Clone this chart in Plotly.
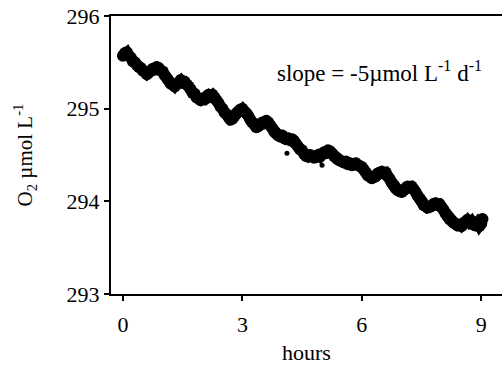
import plotly.graph_objects as go

# Values (hours, O2 µmol/L)
hours = [0.00, 0.05, 0.10, 0.15, 0.20, 0.25, 0.30, 0.35, 0.40, 0.45, 0.50,
         0.55, 0.60, 0.65, 0.70, 0.75, 0.80, 0.85, 0.90, 0.95, 1.00,
         1.05, 1.10, 1.15, 1.20, 1.25, 1.30, 1.35, 1.40, 1.45, 1.50,
         1.55, 1.60, 1.65, 1.70, 1.75, 1.80, 1.85, 1.90, 1.95, 2.00,
         2.05, 2.10, 2.15, 2.20, 2.25, 2.30, 2.35, 2.40, 2.45, 2.50,
         2.55, 2.60, 2.65, 2.70, 2.75, 2.80, 2.85, 2.90, 2.95, 3.00,
         3.05, 3.10, 3.15, 3.20, 3.25, 3.30, 3.35, 3.40, 3.45, 3.50,
         3.55, 3.60, 3.65, 3.70, 3.75, 3.80, 3.85, 3.90, 3.95, 4.00,
         4.05, 4.10, 4.15, 4.20, 4.25, 4.30, 4.35, 4.40, 4.45, 4.50,
         4.55, 4.60, 4.65, 4.70, 4.75, 4.80, 4.85, 4.90, 4.95, 5.00,
         5.05, 5.10, 5.15, 5.20, 5.25, 5.30, 5.35, 5.40, 5.45, 5.50,
         5.55, 5.60, 5.65, 5.70, 5.75, 5.80, 5.85, 5.90, 5.95, 6.00,
         6.05, 6.10, 6.15, 6.20, 6.25, 6.30, 6.35, 6.40, 6.45, 6.50,
         6.55, 6.60, 6.65, 6.70, 6.75, 6.80, 6.85, 6.90, 6.95, 7.00,
         7.05, 7.10, 7.15, 7.20, 7.25, 7.30, 7.35, 7.40, 7.45, 7.50,
         7.55, 7.60, 7.65, 7.70, 7.75, 7.80, 7.85, 7.90, 7.95, 8.00,
         8.05, 8.10, 8.15, 8.20, 8.25, 8.30, 8.35, 8.40, 8.45, 8.50,
         8.55, 8.60, 8.65, 8.70, 8.75, 8.80, 8.85, 8.90, 8.95, 9.00, 9.03]
o2 = [295.57, 295.60, 295.61, 295.57, 295.55, 295.51, 295.50, 295.47, 295.45, 295.44, 295.41,
      295.40, 295.37, 295.39, 295.41, 295.43, 295.42, 295.45, 295.44, 295.41, 295.40,
      295.36, 295.33, 295.30, 295.27, 295.26, 295.24, 295.27, 295.28, 295.31, 295.28,
      295.29, 295.26, 295.24, 295.21, 295.17, 295.16, 295.12, 295.11, 295.09, 295.11,
      295.10, 295.13, 295.15, 295.13, 295.15, 295.12, 295.09, 295.06, 295.02, 295.00,
      294.96, 294.94, 294.91, 294.88, 294.89, 294.92, 294.95, 294.97, 294.99, 295.00,
      294.97, 294.95, 294.92, 294.88, 294.85, 294.83, 294.80, 294.81, 294.83, 294.85,
      294.84, 294.87, 294.85, 294.82, 294.79, 294.75, 294.73, 294.71, 294.70, 294.71,
      294.68, 294.67, 294.68, 294.66, 294.67, 294.65, 294.62, 294.59, 294.56, 294.55,
      294.51, 294.49, 294.48, 294.50, 294.49, 294.47, 294.48, 294.50, 294.48, 294.51,
      294.53, 294.52, 294.55, 294.54, 294.52, 294.49, 294.47, 294.45, 294.44, 294.43,
      294.42, 294.43, 294.40, 294.41, 294.39, 294.40, 294.41, 294.39, 294.38, 294.37,
      294.34, 294.31, 294.28, 294.27, 294.25, 294.26, 294.27, 294.30, 294.31, 294.32,
      294.30, 294.31, 294.27, 294.24, 294.20, 294.17, 294.14, 294.12, 294.11, 294.10,
      294.12, 294.14, 294.16, 294.15, 294.16, 294.13, 294.10, 294.06, 294.03, 294.00,
      293.96, 293.95, 293.93, 293.94, 293.95, 293.97, 293.98, 293.96, 293.97, 293.94,
      293.91, 293.87, 293.84, 293.81, 293.79, 293.77, 293.76, 293.74, 293.75, 293.73,
      293.76, 293.78, 293.80, 293.77, 293.79, 293.75, 293.74, 293.77, 293.73, 293.76, 293.81]

outlier_hours = [4.12, 5.00]
outlier_o2 = [294.52, 294.39]

x_ticks = [0, 3, 6, 9]
y_ticks = [293, 294, 295, 296]

FONT = "Liberation Serif, Times New Roman, serif"

fig = go.Figure()
fig.add_trace(go.Scatter(
    x=hours, y=o2, mode="lines+markers",
    line=dict(color="black", width=10),
    marker=dict(color="black", size=12),
    showlegend=False, hoverinfo="skip"))
fig.add_trace(go.Scatter(
    x=outlier_hours, y=outlier_o2, mode="markers",
    marker=dict(color="black", size=5),
    showlegend=False, hoverinfo="skip"))

fig.add_annotation(
    x=0.955, y=0.80, xref="paper", yref="paper", xanchor="right", yanchor="middle",
    text="slope = -5µmol L<sup>-1</sup> d<sup>-1</sup>", showarrow=False,
    font=dict(family=FONT, size=23, color="black"))

fig.update_layout(
    width=502, height=369,
    margin=dict(l=111, r=0, t=16, b=75),
    paper_bgcolor="white", plot_bgcolor="white",
    font=dict(family=FONT, color="black", size=22),
    xaxis=dict(
        range=[-0.3, 9.52], tickvals=x_ticks, ticktext=[str(v) for v in x_ticks],
        showgrid=False, zeroline=False, showline=True, linecolor="black", linewidth=2,
        mirror=True, ticks="outside", ticklen=5, tickwidth=2, tickcolor="black",
        ticklabelstandoff=5,
        tickfont=dict(family=FONT, size=22),
        title=dict(text="hours", font=dict(family=FONT, size=22), standoff=8)),
    yaxis=dict(
        range=[293, 296], tickvals=y_ticks, ticktext=[str(v) for v in y_ticks],
        showgrid=False, zeroline=False, showline=True, linecolor="black", linewidth=2,
        mirror=False, ticks="outside", ticklen=5, tickwidth=2, tickcolor="black",
        tickfont=dict(family=FONT, size=22),
        title=dict(text="O<sub>2</sub> µmol L<sup>-1</sup>", font=dict(family=FONT, size=21), standoff=28)),
)

fig.write_html("out.html")
